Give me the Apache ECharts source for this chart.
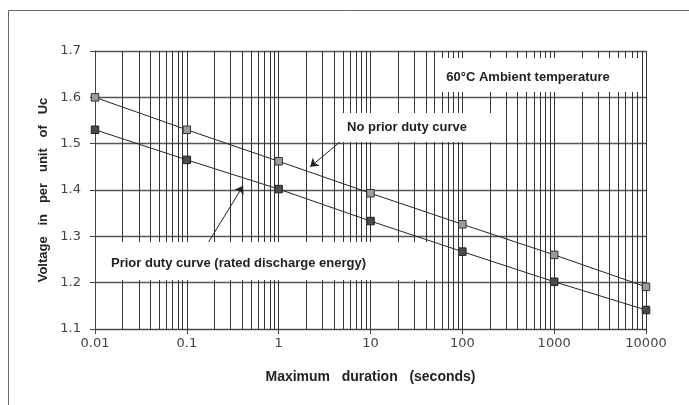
<!DOCTYPE html>
<html>
<head>
<meta charset="utf-8">
<script src="https://cdn.jsdelivr.net/npm/echarts@6/dist/echarts.min.js"></script>
<style>html,body{margin:0;padding:0;background:#fff;}#c{width:689px;height:405px;}</style>
</head>
<body>
<div id="c"></div>
<script>
// ---- data ----
var durations = [0.01, 0.1, 1, 10, 100, 1000, 10000];
var xTickLabels = ['0.01', '0.1', '1', '10', '100', '1000', '10000'];
var noPriorDuty = [1.600, 1.530, 1.462, 1.393, 1.326, 1.260, 1.191];
var priorDuty = [1.530, 1.465, 1.402, 1.333, 1.267, 1.202, 1.141];
var decades = [0.01, 0.1, 1, 10, 100, 1000];
var minorMultipliers = [2, 3, 4, 5, 6, 7, 8, 9];
// annotation arrows in data coordinates: [from, to]
var arrowNoPrior = [[4.8, 1.506], [2.2, 1.450]];
var arrowPrior = [[0.15, 1.268], [0.41, 1.409]];

var minorLines = [];
decades.forEach(function (d) {
  minorMultipliers.forEach(function (m) { minorLines.push({ xAxis: +(d * m).toPrecision(6) }); });
});

function pairs(xs, ys) { return xs.map(function (x, i) { return [x, ys[i]]; }); }

var chart = echarts.init(document.getElementById('c'), null, { renderer: 'canvas' });
var txt = { fontFamily: 'Liberation Sans, Arial, sans-serif', fontWeight: 'bold', fontSize: 13, fill: '#222' };

chart.setOption({
  animation: false,
  backgroundColor: '#fff',
  grid: { left: 95, right: 43, top: 51, bottom: 76 },
  xAxis: {
    type: 'log', logBase: 10, min: 0.01, max: 10000, splitNumber: 6,
    name: 'Maximum   duration   (seconds)', nameLocation: 'middle', nameGap: 41,
    nameTextStyle: { fontFamily: 'Liberation Sans, Arial, sans-serif', fontWeight: 'bold', fontSize: 14, color: '#222' },
    axisLine: { show: true, lineStyle: { color: '#444', width: 1 } },
    axisTick: { show: true, length: 5, lineStyle: { color: '#444' } },
    axisLabel: {
      margin: 8, color: '#444', fontFamily: 'DejaVu Sans', fontSize: 13,
      formatter: function (v) { return xTickLabels[Math.round(Math.log10(v)) + 2]; }
    },
    splitLine: { show: true, lineStyle: { color: '#333', width: 1 } }
  },
  yAxis: {
    type: 'value', min: 1.1, max: 1.7, interval: 0.1,
    name: 'Voltage   in   per   unit   of   Uc', nameLocation: 'middle', nameGap: 42,
    nameTextStyle: { fontFamily: 'Liberation Sans, Arial, sans-serif', fontWeight: 'bold', fontSize: 13, color: '#222' },
    axisLine: { show: true, lineStyle: { color: '#444', width: 1 } },
    axisTick: { show: true, length: 5, lineStyle: { color: '#444' } },
    axisLabel: {
      margin: 14, color: '#444', fontFamily: 'DejaVu Sans', fontSize: 13,
      formatter: function (v) { return v.toFixed(1); }
    },
    splitLine: { show: true, lineStyle: { color: '#555', width: 1.3 } }
  },
  series: [
    {
      name: 'grid', type: 'line', data: [], z: 1, silent: true,
      markLine: {
        silent: true, symbol: ['none', 'none'], label: { show: false },
        lineStyle: { color: '#333', width: 1, type: 'solid' },
        data: minorLines, animation: false
      }
    },
    {
      name: 'No prior duty curve', type: 'line', data: pairs(durations, noPriorDuty), z: 3,
      symbol: 'rect', symbolSize: 7.5, showSymbol: true,
      lineStyle: { color: '#222', width: 1 },
      itemStyle: { color: '#9c9c9c', borderColor: '#333', borderWidth: 1 },
      markLine: {
        silent: true, symbol: ['none', 'arrow'], symbolSize: 8, label: { show: false },
        lineStyle: { color: '#222', width: 1, type: 'solid' },
        data: [[{ coord: arrowNoPrior[0] }, { coord: arrowNoPrior[1] }]]
      }
    },
    {
      name: 'Prior duty curve', type: 'line', data: pairs(durations, priorDuty), z: 3,
      symbol: 'rect', symbolSize: 7.5, showSymbol: true,
      lineStyle: { color: '#222', width: 1 },
      itemStyle: { color: '#4a4a4a', borderColor: '#222', borderWidth: 1 },
      markLine: {
        silent: true, symbol: ['none', 'arrow'], symbolSize: 8, label: { show: false },
        lineStyle: { color: '#222', width: 1, type: 'solid' },
        data: [[{ coord: arrowPrior[0] }, { coord: arrowPrior[1] }]]
      }
    }
  ],
  graphic: [
    { type: 'rect', z: 0, silent: true, shape: { x: 8.5, y: 10.5, width: 700, height: 420 }, style: { fill: 'none', stroke: '#666', lineWidth: 1 } },
    { type: 'rect', z: 50, silent: true, shape: { x: 437, y: 58, width: 201, height: 34 }, style: { fill: '#fff' } },
    { type: 'text', z: 51, silent: true, x: 528, y: 77, style: Object.assign({ text: '60°C Ambient temperature', align: 'center', verticalAlign: 'middle' }, txt) },
    { type: 'rect', z: 50, silent: true, shape: { x: 337, y: 113, width: 160, height: 29 }, style: { fill: '#fff' } },
    { type: 'text', z: 51, silent: true, x: 347, y: 127, style: Object.assign({ text: 'No prior duty curve', align: 'left', verticalAlign: 'middle' }, txt) },
    { type: 'rect', z: 50, silent: true, shape: { x: 96, y: 242, width: 332, height: 38 }, style: { fill: '#fff' } },
    { type: 'text', z: 51, silent: true, x: 111, y: 263, style: Object.assign({ text: 'Prior duty curve (rated discharge energy)', align: 'left', verticalAlign: 'middle' }, txt) }
  ]
});
</script>
</body>
</html>
